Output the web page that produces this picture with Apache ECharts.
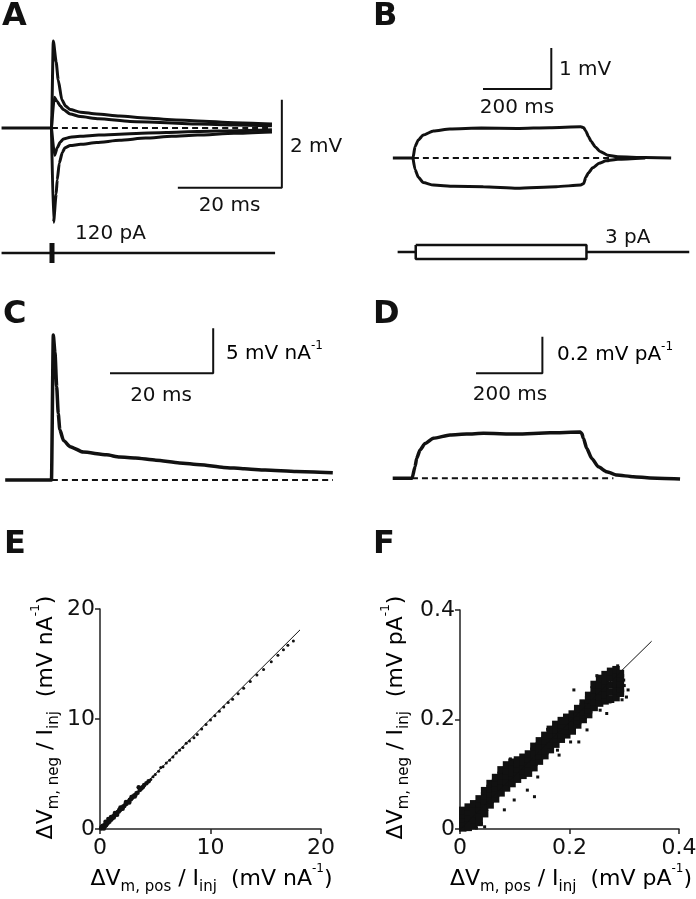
<!DOCTYPE html>
<html>
<head>
<meta charset="utf-8">
<script src="https://cdn.jsdelivr.net/npm/echarts@6/dist/echarts.min.js"></script>
<style>
  html, body { margin: 0; background: #fff; }
  #chart { width: 696px; height: 899px; }
</style>
</head>
<body>
<div id="chart"></div>
<script>
// ---- A: voltage responses to 120 pA pulses (t in ms, V in mV)
const aOuterUp = [[-9.7,0],[-0.1,0],[0.25,1.98],[0.8,1.5],[1.2,1.09],[1.9,0.64],[2.6,0.5],[3.5,0.42],[5.5,0.36],[8.6,0.32],[13,0.27],[18,0.23],[23,0.19],[28,0.16],[35,0.12],[42.3,0.09]];
const aInnerUp = [[-0.1,0],[0.45,0.7],[1.0,0.6],[1.6,0.5],[2.2,0.42],[3.5,0.32],[5.4,0.26],[9,0.21],[15,0.15],[22,0.12],[28,0.09],[35,0.07],[42.3,0.05]];
const aOuterDn = [[-0.1,0],[0.3,-2.14],[0.8,-1.5],[1.0,-1.18],[1.4,-0.8],[2.0,-0.55],[2.5,-0.45],[3.5,-0.4],[5.5,-0.37],[8.6,-0.33],[13,-0.28],[18,-0.23],[23,-0.19],[28,-0.16],[35,-0.12],[42.3,-0.09]];
const aInnerDn = [[-0.1,0],[0.5,-0.62],[1.0,-0.45],[1.6,-0.32],[2.2,-0.25],[3.5,-0.21],[5.4,-0.19],[9,-0.16],[15,-0.13],[22,-0.1],[28,-0.08],[35,-0.06],[42.3,-0.04]];
const aBase = [[0,0],[42,0]];
const aScale = [[24.2,-1.36],[44.2,-1.36],[44.2,0.64]];   // 20 ms, 2 mV
const aStimBase = [[-9.7,0],[42.9,0]];
const aStimPulse = [[0,-120],[0,120]];                      // pA

// ---- B: responses to 3 pA steps (t in ms, V in mV)
const bUp = [[-59,0],[0,0],[6,0.28],[15.6,0.44],[30,0.56],[60,0.66],[108,0.71],[200,0.73],[305,0.72],[400,0.74],[491,0.76],[500,0.74],[506,0.66],[514,0.52],[522,0.4],[534,0.27],[548,0.16],[570,0.07],[600,0.03],[680,0.01],[756,0]];
const bDn = [[0,0],[6,-0.28],[15.6,-0.47],[30,-0.6],[60,-0.66],[120,-0.69],[206,-0.7],[305,-0.74],[420,-0.7],[491,-0.66],[500,-0.62],[506,-0.47],[514,-0.36],[526,-0.24],[545,-0.13],[565,-0.07],[600,-0.03],[680,0]];
const bBase = [[0,0],[577,0]];
const bScale = [[205,1.68],[405,1.68],[405,2.68]];         // 200 ms, 1 mV
const bStimLeft = [[-45,0],[8,0]];
const bStimRight = [[508,0],[809,0]];
const bStimBox = [[8,3],[508,3],[508,-3],[8,-3],[8,3]];    // pA

// ---- C: normalised response (mV nA-1)
const cTrace = [[-9,0],[-0.1,0],[0.25,16.1],[0.58,14.1],[0.9,10.4],[1.2,7.4],[1.5,5.6],[2.2,4.4],[3.5,3.7],[6,3.1],[10.5,2.8],[13,2.55],[16,2.45],[20,2.2],[24.5,1.9],[28.5,1.7],[33,1.4],[37,1.25],[41,1.1],[47,0.95],[54,0.8]];
const cBase = [[0,0],[54,0]];
const cScale = [[11.15,11.86],[31,11.86],[31,16.86]];      // 20 ms, 5 mV nA-1

// ---- D: normalised response (mV pA-1)
const dTrace = [[-58,0],[0,0],[9,0.064],[14,0.11],[24,0.155],[39,0.19],[64,0.219],[114,0.237],[164,0.242],[214,0.246],[314,0.242],[414,0.249],[504,0.253],[509,0.246],[514,0.219],[524,0.164],[539,0.109],[559,0.063],[584,0.036],[614,0.018],[664,0.009],[714,0.002],[804,-0.004]];
const dBase = [[0,0],[604,0]];
const dScale = [[192,0.574],[391,0.574],[391,0.774]];      // 200 ms, 0.2 mV pA-1

// ---- E: neg vs pos (mV nA-1), dense low part and sparse high part
const eDense = [[0.1,0.05],[0.15,0.2],[0.2,0.1],[0.25,0.3],[0.3,0.2],[0.35,0.05],[0.4,0.35],[0.45,0.25],[0.5,0.5],[0.5,0.65],[0.55,0.35],[0.6,0.45],[0.65,0.6],[0.7,0.55],[0.75,0.9],[0.8,0.75],[0.85,0.65],[0.9,0.9],[1.0,0.85],[1.0,1.1],[1.05,1.0],[1.1,0.95],[1.2,1.15],[1.25,1.05],[1.3,1.25],[1.35,1.45],[1.4,1.3],[1.45,1.4],[1.5,1.45],[1.55,1.3],[1.6,1.55],[1.7,1.6],[1.75,1.75],[1.8,1.7],[1.85,1.95],[1.9,1.85],[2.0,1.95],[2.05,1.85],[2.1,2.05],[2.2,2.1],[2.3,2.25],[2.35,2.45],[2.4,2.3],[2.5,2.45],[2.6,2.5],[2.65,2.4],[2.7,2.65],[2.8,2.7],[2.85,2.9],[2.9,2.85],[3.0,2.95],[3.1,3.05],[3.15,2.95],[3.2,3.1],[3.3,3.25],[3.4,3.3],[3.5,3.8],[3.6,3.55],[3.7,3.65],[3.8,3.75],[3.9,3.85],[4.0,4.0],[4.2,4.15],[4.4,4.35]];
const eSparse = [[4.6,4.5],[4.8,4.75],[5.0,4.95],[5.3,5.25],[5.5,5.6],[5.7,5.65],[6.0,6.0],[6.3,6.25],[6.6,6.55],[6.9,6.9],[7.2,7.15],[7.5,7.4],[7.8,7.8],[8.1,8.0],[8.5,8.3],[8.8,8.6],[9.2,9.1],[9.6,9.5],[10.0,9.9],[10.4,10.3],[10.8,10.7],[11.2,11.1],[11.6,11.5],[12.0,11.8],[12.5,12.3],[13.0,12.8],[13.6,13.4],[14.2,14.0],[14.8,14.5],[15.5,15.2],[16.1,15.8],[16.6,16.3],[17.0,16.7],[17.5,17.1]];
const eFit = [[0,0],[18.1,18.1]];

// ---- F: neg vs pos (mV pA-1), dense cloud read column by column
const fCloud = [
  [0.005,0.002],[0.005,0.010],[0.005,0.018],[0.005,0.026],[0.005,0.034],
  [0.015,0.003],[0.015,0.012],[0.015,0.021],[0.015,0.031],[0.015,0.040],
  [0.025,0.006],[0.025,0.017],[0.025,0.028],[0.025,0.038],[0.025,0.046],
  [0.035,0.012],[0.035,0.025],[0.035,0.036],[0.035,0.046],[0.035,0.055],
  [0.045,0.028],[0.045,0.040],[0.045,0.051],[0.045,0.061],[0.045,0.070],
  [0.055,0.044],[0.055,0.054],[0.055,0.064],[0.055,0.074],[0.055,0.083],
  [0.065,0.055],[0.065,0.065],[0.065,0.075],[0.065,0.085],[0.065,0.094],
  [0.075,0.066],[0.075,0.077],[0.075,0.088],[0.075,0.098],[0.075,0.108],
  [0.085,0.075],[0.085,0.086],[0.085,0.097],[0.085,0.107],[0.085,0.117],
  [0.095,0.083],[0.095,0.093],[0.095,0.103],[0.095,0.113],[0.095,0.122],
  [0.105,0.091],[0.105,0.100],[0.105,0.110],[0.105,0.119],[0.105,0.126],
  [0.115,0.098],[0.115,0.107],[0.115,0.115],[0.115,0.123],[0.115,0.131],
  [0.125,0.102],[0.125,0.111],[0.125,0.120],[0.125,0.129],[0.125,0.137],
  [0.135,0.112],[0.135,0.122],[0.135,0.132],[0.135,0.142],[0.135,0.151],
  [0.145,0.124],[0.145,0.133],[0.145,0.143],[0.145,0.152],[0.145,0.161],
  [0.155,0.134],[0.155,0.143],[0.155,0.153],[0.155,0.162],[0.155,0.171],
  [0.165,0.145],[0.165,0.154],[0.165,0.164],[0.165,0.173],[0.165,0.182],
  [0.175,0.155],[0.175,0.164],[0.175,0.173],[0.175,0.182],[0.175,0.191],
  [0.185,0.164],[0.185,0.173],[0.185,0.182],[0.185,0.190],[0.185,0.198],
  [0.195,0.172],[0.195,0.180],[0.195,0.188],[0.195,0.197],[0.195,0.204],
  [0.205,0.179],[0.205,0.187],[0.205,0.195],[0.205,0.203],[0.205,0.210],
  [0.215,0.190],[0.215,0.198],[0.215,0.205],[0.215,0.213],[0.215,0.220],
  [0.225,0.200],[0.225,0.208],[0.225,0.215],[0.225,0.223],[0.225,0.230],
  [0.235,0.209],[0.235,0.218],[0.235,0.227],[0.235,0.236],[0.235,0.244],
  [0.245,0.222],[0.245,0.233],[0.245,0.244],[0.245,0.254],[0.245,0.264],
  [0.255,0.230],[0.255,0.241],[0.255,0.253],[0.255,0.264],[0.255,0.275],
  [0.265,0.234],[0.265,0.246],[0.265,0.258],[0.265,0.270],[0.265,0.282],
  [0.275,0.237],[0.275,0.250],[0.275,0.263],[0.275,0.276],[0.275,0.288],
  [0.285,0.240],[0.285,0.253],[0.285,0.266],[0.285,0.279],[0.285,0.291],
  [0.293,0.248],[0.293,0.257],[0.293,0.266],[0.293,0.276],[0.293,0.284]
];
const fStray = [[0.208,0.254],[0.256,0.217],[0.268,0.211],[0.232,0.181],[0.217,0.159],[0.202,0.159],[0.178,0.144],[0.181,0.135],[0.142,0.095],[0.123,0.071],[0.099,0.053],[0.081,0.035],[0.304,0.241],[0.307,0.254],[0.274,0.232],[0.136,0.059],[0.045,0.004],[0.039,0.010],[0.030,0.002],[0.288,0.298],[0.250,0.280],[0.160,0.182],[0.092,0.128],[0.300,0.262],[0.299,0.272],[0.296,0.236]];
const fFit = [[0,0],[0.35,0.343]];

const ink = '#111';
const FONT = 'DejaVu Sans';

function hiddenAxes(grid, xmin, xmax, ymin, ymax) {
  return [
    { gridIndex: grid, type: 'value', min: xmin, max: xmax, show: false },
    { gridIndex: grid, type: 'value', min: ymin, max: ymax, show: false }
  ];
}
function trace(grid, data, width, dash) {
  return {
    type: 'line', xAxisIndex: grid, yAxisIndex: grid, data: data,
    symbol: 'none', silent: true, smooth: 0.2, smoothMonotone: 'x',
    lineStyle: { color: ink, width: width, type: dash ? [6, 4] : 'solid' }
  };
}
function straight(grid, data, width) {
  return Object.assign(trace(grid, data, width), { smooth: false });
}
function dots(grid, data, size, shape) {
  return {
    type: 'scatter', xAxisIndex: grid, yAxisIndex: grid, data: data,
    symbol: shape, symbolSize: size, silent: true,
    itemStyle: { color: ink, opacity: 1 }
  };
}
function plotAxis(grid, max, interval) {
  const common = {
    gridIndex: grid, type: 'value', min: 0, max: max, interval: interval,
    axisLine: { show: true, onZero: false, lineStyle: { color: '#222', width: 1.5 } },
    axisTick: { show: true, inside: false, length: 5, lineStyle: { color: '#222', width: 1.5 } },
    splitLine: { show: false },
    axisLabel: { show: true, color: ink, fontSize: 22, fontFamily: FONT }
  };
  return [
    Object.assign({}, common, { axisLabel: Object.assign({}, common.axisLabel, { margin: 8 }) }),
    Object.assign({}, common, { axisLabel: Object.assign({}, common.axisLabel, { margin: 5 }) })
  ];
}

const axes = [
  hiddenAxes(0, -10, 55, -2.5, 2.5),
  hiddenAxes(1, -10, 55, -240, 240),
  hiddenAxes(2, -100, 850, -1.5, 3),
  hiddenAxes(3, -100, 850, -12, 12),
  hiddenAxes(4, -10, 55, -3, 19),
  hiddenAxes(5, -100, 850, -0.1, 0.85),
  plotAxis(6, 20, 10),
  plotAxis(7, 0.4, 0.2)
];

const richBase = {
  m: { fontSize: 22, fontFamily: FONT, color: ink, lineHeight: 32 },
  s: { fontSize: 15, fontFamily: FONT, color: ink, verticalAlign: 'bottom' },
  p: { fontSize: 12, fontFamily: FONT, color: ink, verticalAlign: 'top' }
};
const richScale = {
  m: { fontSize: 20, fontFamily: FONT, color: ink, lineHeight: 28 },
  p: { fontSize: 12, fontFamily: FONT, color: ink, verticalAlign: 'top' }
};
function txt(text, x, y, align, size, bold) {
  return {
    type: 'text', x: x, y: y, silent: true,
    style: {
      text: text, fill: ink, font: (bold ? 'bold ' : '') + size + 'px "' + FONT + '"',
      align: align, textAlign: align, verticalAlign: 'middle', textVerticalAlign: 'middle'
    }
  };
}
function rich(text, x, y, align, richStyles, rot) {
  return {
    type: 'text', x: x, y: y, rotation: rot || 0, silent: true,
    style: {
      text: text, rich: richStyles,
      align: align, textAlign: align, verticalAlign: 'middle', textVerticalAlign: 'middle'
    }
  };
}

const option = {
  animation: false,
  backgroundColor: '#fff',
  grid: [
    { left: 0, top: 18, width: 338, height: 220 },
    { left: 0, top: 233, width: 338, height: 40 },
    { left: 378.85, top: 35, width: 324.4, height: 184.5 },
    { left: 378.85, top: 224, width: 324.4, height: 56 },
    { left: 0, top: 309, width: 338, height: 198 },
    { left: 378.7, top: 322.8, width: 316.7, height: 173.85 },
    { left: 100, top: 609, width: 221, height: 220 },
    { left: 460, top: 610, width: 219, height: 219 }
  ].map(function (g) { return Object.assign({ containLabel: false, outerBoundsMode: 'none' }, g); }),
  xAxis: axes.map(function (a) { return a[0]; }),
  yAxis: axes.map(function (a) { return a[1]; }),
  series: [
    trace(0, aOuterUp, 3), trace(0, aInnerUp, 3), trace(0, aOuterDn, 3), trace(0, aInnerDn, 3),
    trace(0, aBase, 2, true),
    straight(0, aScale, 2),
    straight(1, aStimBase, 2.5),
    straight(1, aStimPulse, 5),

    trace(2, bUp, 3), trace(2, bDn, 3),
    trace(2, bBase, 2, true),
    straight(2, bScale, 2),
    straight(3, bStimLeft, 2.5),
    straight(3, bStimRight, 2.5),
    straight(3, bStimBox, 2.5),

    trace(4, cTrace, 3.5),
    trace(4, cBase, 2, true),
    straight(4, cScale, 2),

    trace(5, dTrace, 3.5),
    trace(5, dBase, 2, true),
    straight(5, dScale, 2),

    straight(6, eFit, 1),
    dots(6, eDense, 4.5, 'circle'),
    dots(6, eSparse, 3, 'circle'),

    straight(7, fFit, 1),
    dots(7, fCloud, 7.5, 'rect'),
    dots(7, fStray, 3, 'rect')
  ],
  graphic: [
    txt('A', 2, 17, 'left', 32, true),
    txt('B', 373, 17, 'left', 32, true),
    txt('C', 3, 315, 'left', 32, true),
    txt('D', 373, 315, 'left', 32, true),
    txt('E', 4, 545, 'left', 32, true),
    txt('F', 373, 545, 'left', 32, true),

    txt('2 mV', 290, 147, 'left', 20),
    txt('20 ms', 229.5, 206, 'center', 20),
    txt('120 pA', 75, 234, 'left', 20),
    txt('1 mV', 559, 70, 'left', 20),
    txt('200 ms', 517, 107.5, 'center', 20),
    txt('3 pA', 605, 237.5, 'left', 20),
    rich('{m|5 mV nA}{p|-1}', 226, 354, 'left', richScale),
    txt('20 ms', 161, 396, 'center', 20),
    rich('{m|0.2 mV pA}{p|-1}', 557, 355, 'left', richScale),
    txt('200 ms', 510, 395, 'center', 20),

    rich('{m|ΔV}{s|m, pos}{m| / I}{s|inj}{m|  (mV nA}{p|-1}{m|)}', 211.5, 879, 'center', richBase),
    rich('{m|ΔV}{s|m, neg}{m| / I}{s|inj}{m|  (mV nA}{p|-1}{m|)}', 46, 717.5, 'center', richBase, Math.PI / 2),
    rich('{m|ΔV}{s|m, pos}{m| / I}{s|inj}{m|  (mV pA}{p|-1}{m|)}', 571, 879, 'center', richBase),
    rich('{m|ΔV}{s|m, neg}{m| / I}{s|inj}{m|  (mV pA}{p|-1}{m|)}', 396, 717.5, 'center', richBase, Math.PI / 2)
  ]
};

const chart = echarts.init(document.getElementById('chart'), null, { renderer: 'canvas' });
chart.setOption(option);
</script>
</body>
</html>
